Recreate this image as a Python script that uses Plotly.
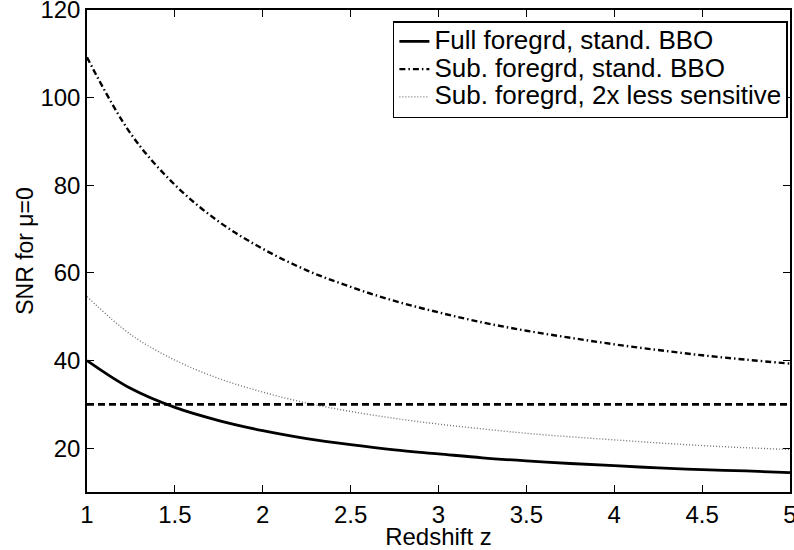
import plotly.graph_objects as go

# Redshift grid
z = [1.0, 1.25, 1.5, 1.75, 2.0, 2.25, 2.5, 2.75, 3.0, 3.25, 3.5, 3.75, 4.0, 4.25, 4.5, 4.75, 5.0]

# SNR values
snr_full_std = [40.0, 33.6, 29.3, 26.3, 24.0, 22.2, 20.8, 19.6, 18.7, 17.8, 17.1, 16.5, 16.0, 15.5, 15.1, 14.8, 14.4]
snr_sub_std = [109.2, 91.7, 80.1, 71.7, 65.5, 60.6, 56.8, 53.6, 51.0, 48.7, 46.8, 45.2, 43.7, 42.4, 41.2, 40.2, 39.3]
snr_sub_half = [54.6, 45.9, 40.1, 35.9, 32.8, 30.3, 28.4, 26.8, 25.5, 24.4, 23.4, 22.6, 21.9, 21.2, 20.6, 20.1, 19.7]

threshold_z = [1.0, 5.0]
threshold_snr = [30, 30]

x_ticks = [1, 1.5, 2, 2.5, 3, 3.5, 4, 4.5, 5]
x_tick_labels = ["1", "1.5", "2", "2.5", "3", "3.5", "4", "4.5", "5"]
y_ticks = [20, 40, 60, 80, 100, 120]

names = ["Full foregrd, stand. BBO", "Sub. foregrd, stand. BBO", "Sub. foregrd, 2x less sensitive"]

FONT = "Liberation Sans, Arial, sans-serif"


def legend_label(text):
    # larger glyphs than the legend's row spacing, as in the reference
    return '<span style="font-size:26px">' + text + '</span>'


fig = go.Figure()
fig.add_trace(go.Scatter(x=z, y=snr_full_std, mode="lines", name=legend_label(names[0]),
                         line=dict(color="black", width=2.8, shape="spline")))
fig.add_trace(go.Scatter(x=z, y=snr_sub_std, mode="lines", name=legend_label(names[1]),
                         line=dict(color="black", width=2.4, dash="6px,3px,1.5px,3px", shape="spline")))
fig.add_trace(go.Scatter(x=z, y=snr_sub_half, mode="lines", name=legend_label(names[2]),
                         line=dict(color="#707070", width=1.4, dash="1px,2px", shape="spline")))
fig.add_trace(go.Scatter(x=threshold_z, y=threshold_snr, mode="lines", showlegend=False,
                         line=dict(color="black", width=2.8, dash="7px,4px")))

axis_common = dict(
    showline=True, linecolor="black", linewidth=1.5, mirror="ticks",
    ticks="inside", ticklen=7, tickwidth=1, tickcolor="black",
    showgrid=False, zeroline=False, automargin=False,
    ticklabeloverflow="allow",
    tickfont=dict(family=FONT, size=24, color="black"),
)

fig.update_xaxes(range=[1, 5], tickvals=x_ticks, ticktext=x_tick_labels,
                 title=dict(text="Redshift z", font=dict(family=FONT, size=24, color="black"), standoff=0),
                 **axis_common)
fig.update_yaxes(range=[10, 120], tickvals=y_ticks,
                 title=dict(text="SNR for μ=0", font=dict(family=FONT, size=23, color="black"), standoff=0),
                 **axis_common)

fig.update_layout(
    width=794, height=550,
    margin=dict(l=87, r=4, t=10, b=58),
    plot_bgcolor="white", paper_bgcolor="white",
    font=dict(family=FONT, color="black"),
    legend=dict(x=0.997, y=0.977, xanchor="right", yanchor="top",
                bgcolor="white", bordercolor="black", borderwidth=1.5,
                font=dict(family=FONT, size=19, color="black"),
                tracegroupgap=0, itemwidth=30),
)

fig.write_html("out.html",
               config={"displayModeBar": False},
               post_script="document.body.style.margin='0';document.body.style.overflow='hidden';")
